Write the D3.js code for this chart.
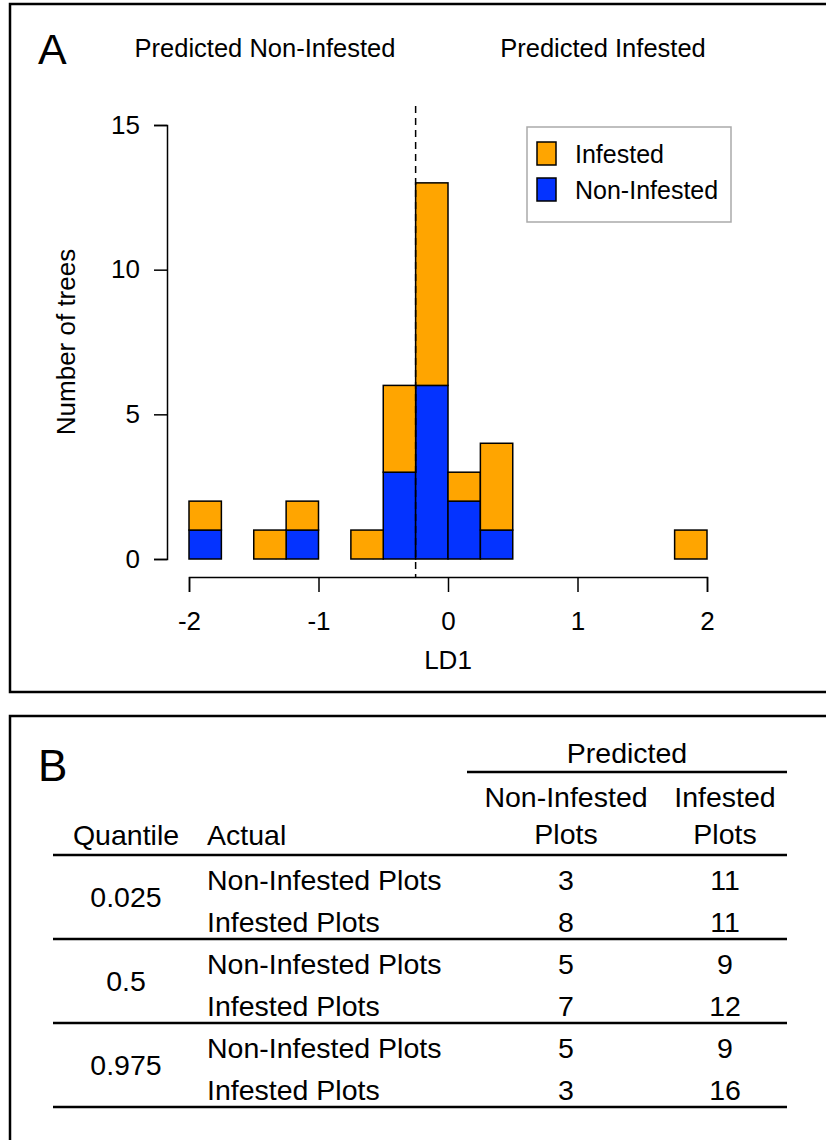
<html>
<head>
<script src="https://d3js.org/d3.v7.min.js"></script>
<style>
  body { margin: 0; background: #fff; }
  text { font-family: "Liberation Sans", Arial, sans-serif; fill: #000; }
</style>
</head>
<body>
<svg id="fig" width="826" height="1140"></svg>
<script>
// histogram bins of LD1 (width 0.25, from -2 to 2)
const binStarts = [-2, -1.75, -1.5, -1.25, -1, -0.75, -0.5, -0.25, 0, 0.25, 0.5, 0.75, 1, 1.25, 1.5, 1.75];
const nonInfested = [1, 0, 0, 1, 0, 0, 3, 6, 2, 1, 0, 0, 0, 0, 0, 0];
const infested    = [1, 0, 1, 1, 0, 1, 3, 7, 1, 3, 0, 0, 0, 0, 0, 1];
const binWidth = 0.25;
const cutoff = -0.25;
const xTicks = [-2, -1, 0, 1, 2];
const yTicks = [0, 5, 10, 15];

// confusion table
const quantiles = ["0.025", "0.5", "0.975"];
const actualLabels = ["Non-Infested Plots", "Infested Plots"];
const predNonInfested = [3, 8, 5, 7, 5, 3];
const predInfested = [11, 11, 9, 12, 9, 16];

const orange = "#ffa500";
const blue = "#0433ff";

const svg = d3.select("#fig");

// frames
svg.append("rect").attr("x", 10).attr("y", 4).attr("width", 840).attr("height", 688)
  .attr("fill", "none").attr("stroke", "#000").attr("stroke-width", 2.5);
svg.append("rect").attr("x", 10).attr("y", 716).attr("width", 840).attr("height", 460)
  .attr("fill", "none").attr("stroke", "#000").attr("stroke-width", 2.5);

// ---------- panel A ----------
const x = d3.scaleLinear().domain([-2, 2]).range([189, 707]);
const y = d3.scaleLinear().domain([0, 15]).range([559, 125]);

svg.append("text").attr("x", 38).attr("y", 64).attr("font-size", 43).text("A");
svg.append("text").attr("x", 265).attr("y", 57).attr("font-size", 25.5)
  .attr("text-anchor", "middle").text("Predicted Non-Infested");
svg.append("text").attr("x", 603).attr("y", 57).attr("font-size", 25.5)
  .attr("text-anchor", "middle").text("Predicted Infested");

const table = binStarts.map((b, i) => ({start: b, non: nonInfested[i], inf: infested[i]}));
const stacked = d3.stack().keys(["non", "inf"])(table);
const colors = {non: blue, inf: orange};

svg.append("g").selectAll("g").data(stacked).join("g")
  .attr("fill", d => colors[d.key])
  .selectAll("rect").data(d => d).join("rect")
  .attr("x", d => x(d.data.start))
  .attr("width", x(binWidth) - x(0))
  .attr("y", d => y(d[1]))
  .attr("height", d => y(d[0]) - y(d[1]))
  .attr("stroke", "#000").attr("stroke-width", 1.5);

// dashed cutoff
svg.append("line")
  .attr("x1", x(cutoff)).attr("x2", x(cutoff))
  .attr("y1", 106).attr("y2", 577)
  .attr("stroke", "#000").attr("stroke-width", 1.5).attr("stroke-dasharray", "7,5");

// axes
const xAxis = svg.append("g").attr("transform", "translate(0,577)")
  .call(d3.axisBottom(x).tickValues(xTicks).tickSize(15).tickPadding(20).tickFormat(d3.format("d")));
const yAxis = svg.append("g").attr("transform", "translate(167,0)")
  .call(d3.axisLeft(y).tickValues(yTicks).tickSize(13).tickPadding(14));
[xAxis, yAxis].forEach(a => {
  a.selectAll("path, line").attr("stroke", "#000").attr("stroke-width", 1.5);
  a.selectAll("text").attr("font-size", 26).attr("font-family", "Liberation Sans, Arial, sans-serif").attr("fill", "#000");
});
xAxis.selectAll("text").text(d => d < 0 ? "-" + Math.abs(d) : d);

svg.append("text").attr("x", 448).attr("y", 669).attr("font-size", 26)
  .attr("text-anchor", "middle").text("LD1");
svg.append("text").attr("transform", "translate(75,342) rotate(-90)").attr("font-size", 26)
  .attr("text-anchor", "middle").text("Number of trees");

// legend
const legend = svg.append("g").attr("transform", "translate(527,127)");
legend.append("rect").attr("width", 204).attr("height", 95)
  .attr("fill", "#fff").attr("stroke", "#aaa").attr("stroke-width", 1.5);
const legendItems = [{label: "Infested", color: orange}, {label: "Non-Infested", color: blue}];
legendItems.forEach((d, i) => {
  legend.append("rect").attr("x", 10).attr("y", 15 + i * 36).attr("width", 19).attr("height", 23)
    .attr("fill", d.color).attr("stroke", "#000").attr("stroke-width", 1.5);
  legend.append("text").attr("x", 48).attr("y", 36 + i * 36).attr("font-size", 25).text(d.label);
});

// ---------- panel B ----------
svg.append("text").attr("x", 38).attr("y", 781).attr("font-size", 44).text("B");

const colX = [566, 725];
const tfs = 28.5;
svg.append("text").attr("x", (467 + 787) / 2).attr("y", 763).attr("font-size", tfs)
  .attr("text-anchor", "middle").text("Predicted");
svg.append("line").attr("x1", 467).attr("x2", 787).attr("y1", 772).attr("y2", 772)
  .attr("stroke", "#000").attr("stroke-width", 2.5);
["Non-Infested", "Infested"].forEach((t, i) => {
  svg.append("text").attr("x", colX[i]).attr("y", 807).attr("font-size", tfs)
    .attr("text-anchor", "middle").text(t);
  svg.append("text").attr("x", colX[i]).attr("y", 844).attr("font-size", tfs)
    .attr("text-anchor", "middle").text("Plots");
});
svg.append("text").attr("x", 126).attr("y", 845).attr("font-size", tfs)
  .attr("text-anchor", "middle").text("Quantile");
svg.append("text").attr("x", 207).attr("y", 845).attr("font-size", tfs).text("Actual");

const groupY = d3.scaleBand().domain(quantiles).range([855, 1107]);
const rules = [855].concat(quantiles.map(q => groupY(q) + groupY.bandwidth()));
svg.selectAll("line.rule").data(rules).join("line").attr("class", "rule")
  .attr("x1", 53).attr("x2", 787).attr("y1", d => d).attr("y2", d => d)
  .attr("stroke", "#000").attr("stroke-width", 2.5);

quantiles.forEach((q, g) => {
  const top = groupY(q);
  const h = groupY.bandwidth();
  svg.append("text").attr("x", 126).attr("y", top + h / 2 + 10).attr("font-size", tfs)
    .attr("text-anchor", "middle").text(q);
  actualLabels.forEach((a, r) => {
    const idx = g * 2 + r;
    const cy = top + (r === 0 ? 25 : 67) + 10;
    svg.append("text").attr("x", 207).attr("y", cy).attr("font-size", tfs).text(a);
    svg.append("text").attr("x", colX[0]).attr("y", cy).attr("font-size", tfs)
      .attr("text-anchor", "middle").text(predNonInfested[idx]);
    svg.append("text").attr("x", colX[1]).attr("y", cy).attr("font-size", tfs)
      .attr("text-anchor", "middle").text(predInfested[idx]);
  });
});
</script>
</body>
</html>
